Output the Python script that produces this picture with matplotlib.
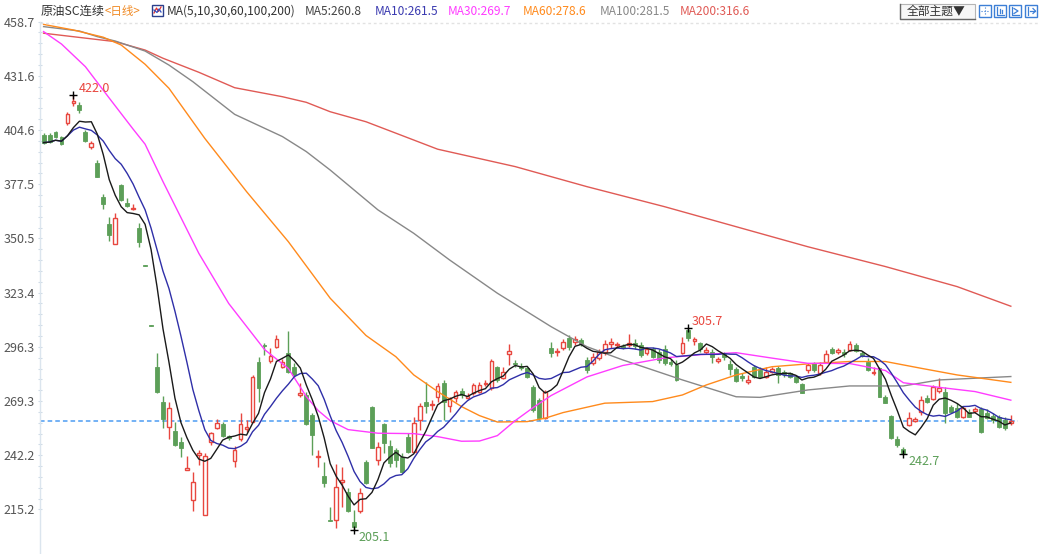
import numpy as np
import pandas as pd
import matplotlib
matplotlib.use('Agg')
import matplotlib.pyplot as plt
from matplotlib.patches import Rectangle
from matplotlib.lines import Line2D

plt.rcParams['font.family'] = ['Noto Sans CJK SC', 'DejaVu Sans']

# daily candles (oldest first)
opens = [402.1, 402.1, 403.4, 400.9, 408.3, 417.9, 417.1, 403.8, 396.3, 388.3,
         371.3, 357.7, 347.5, 377.1, 368.0, 365.0, 355.5, 337.2, 307.1, 286.1,
         268.6, 256.5, 254.5, 249.0, 234.8, 219.9, 242.4, 212.4, 249.0, 255.6,
         257.8, 251.8, 239.5, 250.2, 255.2, 259.0, 288.9, 297.3, 289.4, 296.1,
         286.4, 293.1, 286.4, 272.3, 272.3, 262.3, 241.5, 231.9, 210.0, 209.9,
         229.0, 224.0, 209.1, 214.6, 239.0, 266.1, 239.8, 257.8, 246.8, 244.8,
         241.5, 251.5, 244.0, 259.8, 269.0, 267.2, 271.1, 278.1, 266.8, 270.6,
         274.5, 271.0, 273.1, 273.9, 277.8, 275.6, 286.1, 280.6, 292.8, 288.4,
         286.8, 285.6, 276.5, 269.8, 260.6, 295.6, 293.6, 295.6, 300.6, 298.9,
         299.8, 289.8, 288.4, 290.6, 293.8, 297.6, 297.1, 296.8, 297.3, 298.1,
         297.3, 293.1, 295.1, 293.9, 295.1, 288.9, 287.3, 293.1, 304.7, 299.1,
         298.1, 293.6, 293.9, 289.3, 292.8, 287.8, 285.1, 281.8, 278.9, 286.4,
         284.8, 281.4, 283.9, 285.6, 283.9, 283.1, 281.4, 277.8, 284.8, 288.1,
         283.4, 288.9, 295.1, 293.8, 293.9, 294.8, 297.3, 293.4, 288.9, 283.1,
         285.6, 271.5, 261.8, 250.2, 245.2, 257.3, 259.5, 264.0, 270.6, 270.1,
         274.5, 273.9, 266.5, 265.6, 261.1, 264.0, 264.5, 265.1, 263.1, 261.8,
         261.5, 259.8, 258.5]
highs = [402.9, 402.9, 404.1, 401.6, 413.7, 422.0, 418.7, 404.6, 399.3, 389.6,
         372.5, 361.3, 363.3, 377.6, 370.8, 367.5, 358.0, 337.4, 307.3, 293.4,
         271.8, 269.0, 259.0, 251.5, 241.8, 234.0, 244.8, 243.2, 254.0, 260.1,
         259.0, 252.5, 246.8, 263.5, 259.8, 282.3, 291.4, 298.0, 295.6, 302.3,
         290.1, 304.4, 288.1, 278.1, 274.0, 263.1, 244.8, 239.0, 216.5, 237.8,
         236.5, 225.7, 214.9, 225.7, 239.8, 266.8, 249.0, 258.1, 249.8, 245.7,
         243.2, 253.2, 261.5, 268.1, 279.0, 269.8, 278.5, 279.8, 271.5, 274.8,
         275.6, 273.1, 278.1, 279.0, 279.8, 290.1, 286.8, 286.4, 297.8, 289.8,
         288.4, 286.4, 277.3, 270.6, 274.8, 298.9, 295.6, 300.1, 302.3, 301.8,
         300.6, 291.4, 293.1, 295.1, 299.5, 300.6, 298.9, 297.6, 302.7, 300.1,
         298.9, 296.1, 296.1, 295.1, 297.3, 290.1, 289.8, 301.4, 305.7, 301.1,
         298.9, 296.4, 295.1, 291.4, 293.9, 289.8, 286.4, 283.4, 282.3, 287.3,
         286.1, 286.1, 286.4, 286.8, 284.8, 283.9, 282.3, 278.5, 288.1, 288.9,
         288.9, 294.8, 296.1, 295.6, 295.1, 299.4, 298.4, 294.4, 290.6, 286.1,
         286.4, 272.3, 262.3, 251.8, 246.5, 264.0, 261.1, 271.8, 272.3, 277.3,
         280.6, 276.5, 267.3, 268.1, 266.8, 265.1, 266.5, 266.1, 265.1, 263.1,
         262.3, 261.1, 262.3]
lows = [397.6, 397.9, 400.8, 397.1, 407.1, 416.6, 412.9, 398.8, 394.9, 381.0,
        365.0, 349.4, 347.5, 369.3, 366.3, 364.7, 346.4, 336.7, 306.6, 273.1,
        255.6, 250.2, 246.8, 241.5, 234.8, 214.4, 237.3, 212.4, 247.3, 255.2,
        251.2, 250.0, 236.5, 249.5, 254.0, 258.9, 269.0, 292.5, 288.1, 295.6,
        285.6, 283.1, 281.4, 271.5, 257.3, 242.3, 236.5, 226.5, 209.4, 206.0,
        216.5, 214.0, 205.1, 213.5, 227.9, 245.7, 237.3, 243.2, 236.5, 236.5,
        233.2, 243.2, 244.0, 254.8, 263.1, 264.8, 269.0, 259.8, 264.0, 269.0,
        270.6, 270.1, 272.3, 273.1, 276.8, 274.8, 279.0, 280.1, 287.3, 286.4,
        284.8, 280.6, 264.0, 259.8, 260.1, 291.4, 291.8, 294.8, 294.8, 297.3,
        296.8, 283.4, 287.3, 289.8, 292.5, 295.6, 295.6, 295.1, 296.4, 295.1,
        291.4, 292.3, 290.6, 288.4, 287.3, 286.8, 279.4, 292.8, 299.0, 297.3,
        293.9, 292.8, 288.4, 288.1, 289.8, 282.3, 278.9, 279.4, 277.8, 280.6,
        280.6, 280.6, 283.1, 278.5, 281.4, 280.6, 278.5, 273.1, 283.1, 283.9,
        282.3, 288.1, 292.8, 292.8, 291.4, 294.4, 293.9, 291.4, 284.4, 282.3,
        271.5, 268.1, 250.2, 246.2, 242.7, 256.8, 259.0, 262.3, 268.1, 269.8,
        273.5, 258.2, 263.1, 260.6, 260.6, 261.1, 263.5, 253.5, 260.1, 258.5,
        255.6, 254.8, 257.3]
closes = [398.3, 398.8, 401.3, 397.6, 412.4, 418.9, 414.6, 399.3, 398.3, 381.3,
          367.7, 352.2, 360.5, 369.6, 366.7, 365.5, 348.8, 336.9, 306.8, 273.9,
          260.1, 265.6, 247.3, 246.0, 236.0, 228.7, 243.5, 241.8, 253.2, 258.5,
          251.8, 250.7, 244.8, 257.8, 256.3, 281.1, 275.6, 296.6, 291.8, 300.1,
          288.9, 283.9, 282.3, 273.5, 257.8, 252.3, 241.9, 228.5, 209.5, 226.5,
          229.9, 214.6, 206.6, 223.2, 228.2, 245.7, 246.5, 248.2, 238.2, 239.8,
          234.0, 244.0, 258.5, 266.8, 266.8, 267.7, 276.9, 269.0, 270.6, 273.9,
          272.3, 271.8, 277.3, 277.3, 278.5, 289.4, 279.8, 283.9, 294.4, 287.6,
          285.6, 281.4, 264.8, 260.6, 273.9, 293.1, 294.4, 298.9, 296.4, 300.1,
          297.8, 284.8, 291.4, 293.9, 297.8, 298.9, 297.6, 295.6, 298.1, 296.8,
          292.3, 295.1, 291.4, 289.8, 288.1, 287.8, 279.8, 298.1, 300.6, 300.1,
          295.1, 294.8, 291.4, 290.1, 291.4, 285.1, 279.4, 280.6, 279.8, 281.4,
          281.4, 283.9, 285.1, 282.3, 282.8, 281.4, 278.9, 273.5, 287.3, 284.8,
          287.3, 292.8, 293.4, 294.8, 292.8, 297.8, 294.4, 291.8, 284.8, 283.9,
          271.5, 268.5, 250.7, 247.3, 243.2, 260.6, 260.1, 269.8, 268.9, 276.5,
          275.6, 263.1, 264.0, 261.1, 265.6, 261.5, 265.1, 254.0, 260.6, 259.8,
          256.5, 255.6, 259.5]

ma30_idx = [0, 3, 7, 11, 15, 17, 20, 26, 31, 37, 41, 44, 46, 48, 51, 56, 62, 66,
            70, 73, 76, 79, 82, 85, 91, 97, 104, 110, 116, 122, 128, 135, 141,
            144, 150, 156, 162]
ma30_val = [453.7, 447.5, 436.2, 420.5, 405.0, 397.5, 378.8, 343.0, 318.0, 295.0,
            285.5, 271.5, 264.5, 259.5, 255.0, 253.2, 253.0, 251.5, 249.2, 249.3,
            252.0, 259.5, 266.0, 272.0, 281.3, 287.0, 290.8, 292.4, 293.4, 290.7,
            288.1, 288.0, 284.5, 278.4, 276.1, 274.0, 269.7]
ma60_idx = [0, 5, 10, 13, 17, 21, 27, 34, 41, 48, 54, 59, 62, 66, 70, 73, 76, 81,
            84, 87, 94, 102, 107, 111, 116, 122, 128, 135, 141, 147, 153, 162]
ma60_val = [457.3, 454.5, 450.9, 447.0, 437.4, 425.4, 400.4, 373.8, 348.8, 320.6,
            302.0, 291.4, 282.3, 274.0, 266.5, 262.0, 258.8, 259.0, 260.7, 263.5,
            268.2, 269.0, 272.3, 277.3, 282.3, 286.4, 287.8, 289.0, 289.0, 285.6,
            282.3, 278.6]
ma100_idx = [0, 6, 9, 12, 17, 21, 25, 32, 40, 44, 48, 56, 62, 68, 76, 85, 91, 97,
             107, 116, 120, 128, 135, 144, 150, 162]
ma100_val = [456.2, 454.0, 451.2, 449.0, 444.0, 437.0, 428.7, 412.4, 401.3, 393.8,
             384.6, 364.7, 353.0, 339.7, 323.1, 306.4, 296.4, 289.8, 279.8, 271.4,
             271.1, 274.8, 276.8, 276.8, 279.8, 281.5]
ma200_idx = [0, 12, 17, 20, 26, 32, 40, 44, 48, 54, 59, 66, 79, 91, 104, 116, 128,
             141, 153, 162]
ma200_val = [452.9, 448.7, 444.5, 440.4, 433.4, 425.7, 421.2, 418.4, 413.7, 408.7,
             403.0, 395.0, 386.3, 376.3, 366.3, 356.3, 346.3, 336.4, 326.4, 316.6]

ytick_vals = [458.7, 431.6, 404.6, 377.5, 350.5, 323.4, 296.3, 269.3, 242.2, 215.2]
last_price = 259.5

title = '原油SC连续'
period = '<日线>'
ma_group = 'MA(5,10,30,60,100,200)'
ma_labels = ['MA5:260.8', 'MA10:261.5', 'MA30:269.7', 'MA60:278.6',
             'MA100:281.5', 'MA200:316.6']

RED = '#e8473f'
GREEN = '#5c9f58'
ma_colors = ['#1a1a1a', '#2f2fa8', '#ff3cff', '#ff8a1c', '#888888', '#e05a55']
label_colors = ['#444444', '#3a3ab0', '#ff3cff', '#ff8a1c', '#888888', '#e05a55']

W, H = 1040, 554
fig = plt.figure(figsize=(W / 100, H / 100), dpi=100)
fig.patch.set_facecolor('white')


def fx(x):
    return x / W


def fy(y):
    return 1 - y / H


ax_top = 21.6
ax = fig.add_axes([fx(40), 0, fx(1018) - fx(40), (H - ax_top) / H])
ax.set_facecolor('white')

n = len(closes)
idx = np.arange(n)
o = np.array(opens)
c = np.array(closes)
hi = np.array(highs)
lo = np.array(lows)
up = c >= o

# wicks
ax.vlines(idx, lo, hi, colors=np.where(up, RED, GREEN), lw=1.0, zorder=2)

# bodies: hollow red for up days, solid green for down days
body_lo = np.minimum(o, c)
body_h = np.maximum(np.abs(c - o), 0.45)
ax.bar(idx[up], body_h[up], bottom=body_lo[up], width=0.62,
       facecolor='white', edgecolor=RED, lw=1.0, zorder=3)
ax.bar(idx[~up], body_h[~up], bottom=body_lo[~up], width=0.66,
       facecolor=GREEN, edgecolor=GREEN, lw=0.6, zorder=3)

# moving averages
cs = pd.Series(closes)
ma5 = cs.rolling(5, min_periods=1).mean()
ma10 = cs.rolling(10, min_periods=1).mean()
ax.plot(ma200_idx, ma200_val, color=ma_colors[5], lw=1.0, zorder=4)
ax.plot(ma100_idx, ma100_val, color=ma_colors[4], lw=1.0, zorder=4)
ax.plot(ma60_idx, ma60_val, color=ma_colors[3], lw=1.0, zorder=4)
ax.plot(ma30_idx, ma30_val, color=ma_colors[2], lw=1.0, zorder=4)
ax.plot(idx, ma10, color=ma_colors[1], lw=1.0, zorder=5)
ax.plot(idx, ma5, color=ma_colors[0], lw=1.0, zorder=6)

# last price line
ax.axhline(last_price, color='#4d9cf2', lw=1.1, ls=(0, (3, 2)), zorder=1)

# high / low markers
marks = [(5, 422.0, '422.0', RED, 5, 7),
         (108, 305.7, '305.7', RED, 3, 7),
         (52, 205.1, '205.1', GREEN, 4, -8),
         (144, 242.7, '242.7', GREEN, 5, -7)]
for i, v, s, col, dx, dy in marks:
    ax.plot([i], [v], marker='+', ms=6, mew=1.0, color='black', zorder=7)
    ax.annotate(s, (i, v), xytext=(dx, dy), textcoords='offset pixels',
                ha='left', va='center', color=col, fontsize=9, zorder=7)

ax.set_xlim(-0.6, 163.2)
ax.set_ylim(192.9, 458.7)
ax.set_xticks([])
ax.set_yticks(ytick_vals)
ax.set_yticklabels([f'{v:.1f}' for v in ytick_vals])
minor = []
for a, b in zip(ytick_vals[1:], ytick_vals[:-1]):
    minor += [a + (b - a) * k / 5 for k in range(1, 5)]
ax.set_yticks(minor, minor=True)
ax.tick_params(axis='y', which='both', direction='inout', length=3, width=0.8,
               color='#cfdbe6', labelsize=9, labelcolor='#555555', pad=2)
for side in ['top', 'right', 'bottom']:
    ax.spines[side].set_visible(False)
ax.spines['left'].set_color('#dbe5ee')
ax.spines['left'].set_linewidth(1.0)

# dotted separator under the header
fig.add_artist(Line2D([fx(40), 1.0], [fy(22.5), fy(22.5)], color='#e2e2e2',
                      lw=1.0, ls=(0, (2, 2))))

# header texts
ty = fy(11.5)
fig.text(fx(41), ty, title, color='#333333', fontsize=8.8, va='center')
fig.text(fx(105), ty, period, color='#f08a24', fontsize=8.3, va='center')
fig.add_artist(Rectangle((fx(152), fy(15.5)), fx(11), 11 / H, transform=fig.transFigure,
                         facecolor='white', edgecolor='#2b3f8c', lw=1.0))
fig.add_artist(Line2D([fx(154), fx(156.5), fx(158.5), fx(161)],
                      [fy(13), fy(8), fy(11.5), fy(7)], color='#e03030', lw=0.9))
fig.add_artist(Line2D([fx(154), fx(157), fx(159), fx(161)],
                      [fy(10), fy(12.5), fy(9), fy(12)], color='#3050c0', lw=0.9))
fig.text(fx(167), ty, ma_group, color='#333333', fontsize=8.6, va='center')
label_x = [305, 375, 448, 523, 600, 680]
for x, s, col in zip(label_x, ma_labels, label_colors):
    fig.text(fx(x), ty, s, color=col, fontsize=8.6, va='center')

# theme button and toolbar icons
fig.add_artist(Rectangle((fx(900), fy(19)), fx(75), 15 / H, transform=fig.transFigure,
                         facecolor='#f7f7f7', edgecolor='#b5b5b5', lw=0.8))
fig.add_artist(Line2D([fx(900), fx(900), fx(975)], [fy(4), fy(19), fy(19)],
                      color='#666666', lw=1.0))
fig.text(fx(907), fy(11.5), '全部主题▼', color='#333333', fontsize=8.5, va='center')
for x0 in [979, 994, 1009, 1025]:
    fig.add_artist(Rectangle((fx(x0), fy(17)), fx(12), 12 / H, transform=fig.transFigure,
                             facecolor='white', edgecolor='#3d7fd6', lw=1.0))
# glyphs inside the icons
icon = '#3d7fd6'
fig.add_artist(Line2D([fx(981), fx(989)], [fy(11), fy(11)], color=icon, lw=0.8, ls=':'))
fig.add_artist(Line2D([fx(985), fx(985)], [fy(7), fy(15)], color=icon, lw=0.8, ls=':'))
fig.add_artist(Line2D([fx(997), fx(997), fx(1004)], [fy(7), fy(15), fy(15)], color=icon, lw=0.9))
fig.add_artist(Line2D([fx(999.5), fx(999.5)], [fy(9), fy(13)], color=icon, lw=0.9))
fig.add_artist(Line2D([fx(1002), fx(1002)], [fy(10), fy(13)], color=icon, lw=0.9))
fig.add_artist(Line2D([fx(1012), fx(1012), fx(1019)], [fy(7), fy(15), fy(15)], color=icon, lw=0.9))
fig.add_artist(Line2D([fx(1014), fx(1018), fx(1014)], [fy(8.5), fy(11), fy(13.5)], color=icon, lw=0.9))
fig.add_artist(Line2D([fx(1028), fx(1028)], [fy(7), fy(15)], color=icon, lw=0.9))
fig.add_artist(Line2D([fx(1030), fx(1035)], [fy(11), fy(11)], color=icon, lw=0.9))
fig.add_artist(Line2D([fx(1033), fx(1035.5), fx(1033)], [fy(8.5), fy(11), fy(13.5)], color=icon, lw=0.9))

fig.savefig('out.png', dpi=100)
